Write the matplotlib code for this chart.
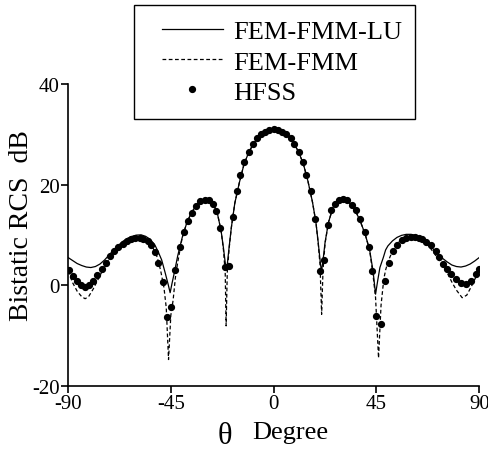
import matplotlib
matplotlib.use("Agg")
import matplotlib.pyplot as plt
from matplotlib.patches import Rectangle

plt.rcParams['font.family'] = ['Liberation Serif', 'DejaVu Serif']
plt.rcParams['axes.unicode_minus'] = False

# FEM-FMM-LU (solid)
lu_deg = [-90, -88, -86, -84, -82, -80, -78, -76, -74, -72, -70, -68, -66, -64, -62, -60, -58, -56, -54,
          -52, -50.5, -49, -47.5, -46.2, -45.3, -44.5, -43.5, -42, -40, -38, -36, -34, -32, -30, -28, -26,
          -24.5, -23, -22, -21.2, -20.7, -20.2, -19.5, -18.5, -17, -15, -13, -11, -9, -7, -5, -3, -1, 0,
          1, 3, 5, 7, 9, 11, 13, 15, 17, 18.5, 19.5, 20.3, 20.9, 21.5, 22.5, 24, 26, 28, 30, 32, 34, 36,
          38, 40, 42, 43.5, 44.6, 45.5, 46.5, 48, 49, 50, 52, 54, 56, 58, 60, 62, 64, 66, 68, 70, 72, 74,
          76, 78, 80, 82, 84, 86, 88, 90]
lu_db = [5.5, 4.9, 4.3, 3.9, 3.6, 3.5, 3.7, 4.2, 5.0, 6.0, 7.0, 7.9, 8.7, 9.3, 9.7, 9.95, 10.0, 9.7, 9.1,
         8.0, 6.6, 5.0, 2.5, 0.2, -1.5, 0.3, 2.4, 5.8, 9.5, 12.4, 14.4, 15.8, 16.7, 17.0, 16.8, 15.8,
         14.0, 10.8, 7.5, 4.5, 3.0, 4.5, 7.5, 11.5, 16.3, 20.4, 24.0, 26.3, 28.0, 29.3, 30.2, 30.7, 31.0, 31.05,
         31.0, 30.7, 30.2, 29.4, 28.1, 26.4, 24.1, 20.7, 16.5, 12.5, 8.5, 5.0, 2.7, 4.5, 8.5, 12.5, 15.5, 16.9, 17.2, 16.9, 16.0, 14.6,
         12.6, 10.2, 7.0, 2.8, -1.8, 0.8, 3.5, 5.5, 7.0, 7.8, 8.8, 9.5, 9.9, 10.1, 10.1, 9.9, 9.5, 8.9, 8.1, 7.1, 6.2, 5.3,
         4.6, 4.0, 3.7, 3.6, 3.8, 4.2, 4.8, 5.5]

# FEM-FMM (dashed)
fmm_deg = [-90, -88, -86, -84, -82.5, -81, -79, -77, -75, -73, -71, -69, -67, -65, -63, -61, -59, -57, -55,
           -53, -51, -49.5, -48, -47, -46, -45, -44, -43, -42, -41, -40, -38, -36, -34, -32, -30, -28, -26,
           -24.5, -23, -22, -21.2, -20.8, -20.3, -19.5, -18.5, -17, -15, -13, -11, -9, -7, -5, -3, -1, 0,
           1, 3, 5, 7, 9, 11, 13, 15, 17, 18.5, 19.5, 20.3, 21, 21.6, 22.5, 24, 26, 28, 30, 32, 34, 36,
           38, 40, 42, 43.5, 44.6, 45.9, 47, 48.2, 49, 50, 52, 54, 56, 58, 60, 62, 64, 66, 68, 70, 72, 74,
           76, 78, 80, 82.5, 84.5, 86.5, 88.5, 90]
fmm_db = [2.8, 0.5, -1.2, -2.3, -2.7, -2.3, -0.8, 1.0, 2.8, 4.3, 5.8, 7.0, 8.0, 8.7, 9.2, 9.5, 9.6, 9.4, 8.8,
          7.6, 5.6, 3.0, -0.5, -4.5, -14.8, -6.0, -3.0, 1.5, 4.5, 7.0, 9.5, 12.4, 14.4, 15.8, 16.7, 17.0, 16.8, 15.8,
          14.0, 10.8, 7.2, 2.5, -8.1, 2.5, 7.2, 11.5, 16.3, 20.4, 24.0, 26.3, 28.0, 29.3, 30.2, 30.7, 31.0, 31.05,
          31.0, 30.7, 30.2, 29.4, 28.1, 26.4, 24.1, 20.7, 16.5, 12.5, 8.3, 4.0, -5.8, 3.0, 8.3, 12.5, 15.5, 16.9, 17.2, 16.9, 16.0, 14.6,
          12.6, 10.2, 7.0, 2.0, -2.5, -14.5, -4.0, 1.2, 3.0, 4.6, 6.8, 8.2, 9.1, 9.6, 9.8, 9.7, 9.3, 8.6, 7.7, 6.5, 5.2, 3.9,
          2.4, 0.6, -1.0, -2.5, -2.0, -0.3, 1.6, 3.0]

# HFSS (dots)
hfss_deg = [-89.4, -87.9, -86.2, -84.4, -82.5, -80.6, -78.9, -77.1, -75.2, -73.3, -71.6, -69.8, -67.9, -66.0,
            -64.2, -62.5, -60.6, -58.7, -57.0, -55.2, -53.7, -51.8, -50.4, -48.5, -46.7, -44.8, -43.1, -41.2,
            -39.4, -37.7, -35.8, -34.0, -32.1, -30.2, -28.5, -26.7, -25.1, -23.4, -21.5, -19.7, -17.8, -16.0,
            -14.6, -12.8, -10.7, -9.0, -7.3, -5.5, -3.6, -1.9, 0.0,
            1.9, 3.6, 5.5, 7.6, 9.1, 11.0, 12.9, 14.3, 16.4, 18.3, 20.2, 21.9, 23.7, 25.3, 27.0, 28.5, 30.3,
            32.0, 34.2, 36.2, 38.0, 39.9, 41.8, 43.1, 44.9, 47.1, 48.9, 50.4, 52.3, 54.1, 56.3, 58.0, 59.9,
            61.7, 63.4, 65.0, 66.8, 68.7, 70.9, 72.3, 74.2, 76.0, 77.4, 79.6, 81.8, 84.0, 86.2, 88.4, 89.8]
hfss_db = [3.1, 1.9, 0.9, 0.0, -0.3, 0.0, 0.9, 2.0, 3.2, 4.5, 5.7, 6.7, 7.5, 8.2,
           8.7, 9.1, 9.3, 9.3, 9.1, 8.7, 7.9, 6.5, 4.5, 0.7, -6.3, -4.3, 3.1, 7.5,
           10.5, 12.7, 14.4, 15.7, 16.7, 17.0, 16.9, 16.2, 14.7, 11.3, 3.7, 3.9, 13.5, 18.7,
           22.0, 24.5, 26.5, 28.0, 29.2, 30.0, 30.5, 30.9, 31.1,
           30.9, 30.5, 30.0, 29.2, 28.0, 26.5, 24.5, 21.9, 18.7, 13.2, 2.9, 4.9, 11.9, 14.9, 16.2, 17.0, 17.2,
           16.9, 16.0, 14.9, 13.2, 10.5, 7.5, 2.9, -6.1, -7.7, 0.9, 4.5, 6.7, 8.0, 8.9, 9.3, 9.5,
           9.5, 9.3, 9.1, 8.6, 7.9, 6.7, 5.5, 4.2, 3.3, 2.2, 1.2, 0.4, 0.3, 0.9, 2.2, 3.2]

x_ticks = [-90, -45, 0, 45, 90]
y_ticks = [-20, 0, 20, 40]
labels = ['FEM-FMM-LU', 'FEM-FMM', 'HFSS']

W, H = 489, 452
fig = plt.figure(figsize=(W / 100, H / 100), dpi=100)
ax = fig.add_axes([68 / W, 1 - 386.7 / H, (479.3 - 68) / W, (386.7 - 85) / H])

l1, = ax.plot(lu_deg, lu_db, color='black', lw=0.9, solid_joinstyle='round')
l2, = ax.plot(fmm_deg, fmm_db, color='black', lw=0.9, linestyle=(0, (3, 2)))
l3, = ax.plot(hfss_deg, hfss_db, linestyle='none', marker='o', color='black', markersize=4.2)

ax.set_xlim(-90, 90)
ax.set_ylim(-20, 40)
ax.set_xticks(x_ticks)
ax.set_yticks(y_ticks)
ax.set_xticklabels([str(v) for v in x_ticks])
ax.set_yticklabels([str(v) for v in y_ticks])
for s in ['top', 'right']:
    ax.spines[s].set_visible(False)
for s in ['left', 'bottom']:
    ax.spines[s].set_linewidth(1.2)
ax.tick_params(direction='out', length=5, width=1.2, labelsize=15, pad=1)

fig.text(22 / W, 1 - 226 / H, 'Bistatic RCS  dB', fontsize=20, rotation=90, ha='center', va='center')
fig.text(225 / W, 1 - 444 / H, 'θ', fontsize=22, ha='center', va='baseline')
fig.text(252 / W, 1 - 433 / H, 'Degree', fontsize=19, ha='left', va='center')

rect = Rectangle((134 / W, 1 - 120 / H), (415 - 134) / W, (120 - 6) / H, transform=fig.transFigure,
                 facecolor='white', edgecolor='black', lw=1.0, zorder=5)
fig.add_artist(rect)
leg = fig.legend([l1, l2, l3], labels, loc='upper left', bbox_to_anchor=(162 / W, 1 - 21 / H),
                 frameon=False, fontsize=19, handlelength=2.3, handletextpad=0.38,
                 labelspacing=0.25, borderpad=0, borderaxespad=0)
leg.set_zorder(6)

fig.savefig('out.png', dpi=100)
